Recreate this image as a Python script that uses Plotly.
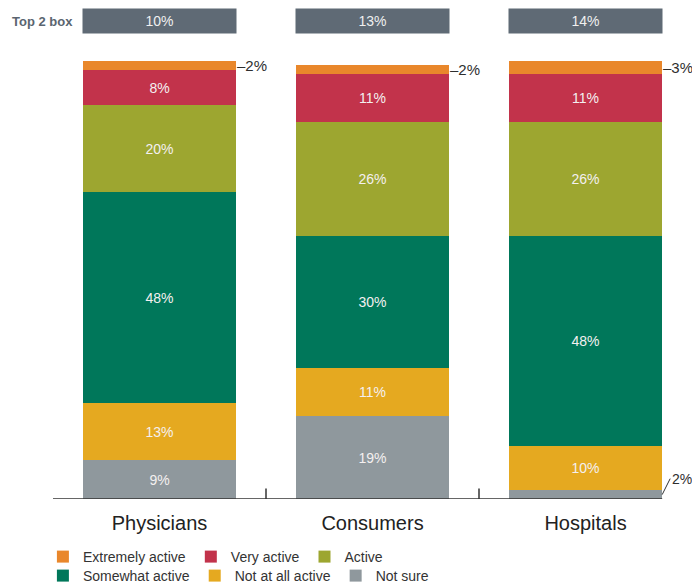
import plotly.graph_objects as go

# Survey results: how active each group is, stacked from the bottom up
groups = ["Physicians", "Consumers", "Hospitals"]
levels = ["Not sure", "Not at all active", "Somewhat active",
          "Active", "Very active", "Extremely active"]
not_sure = [9, 19, 2]
not_at_all = [13, 11, 10]
somewhat = [48, 30, 48]
active = [20, 26, 26]
very = [8, 11, 11]
extremely = [2, 2, 3]
top2_box = [10, 13, 14]

series = [not_sure, not_at_all, somewhat, active, very, extremely]
colors = ["#8F989D", "#E5A920", "#00775A", "#9DA630", "#C2334B", "#E9872B"]
legend_row = ["legend2", "legend2", "legend2", "legend", "legend", "legend"]

FONT = "Liberation Sans, Arial, sans-serif"
BAR_W = 0.72
x = list(range(len(groups)))

fig = go.Figure()
for name, vals, col, lg in zip(levels, series, colors, legend_row):
    fig.add_trace(go.Bar(
        x=x, y=vals, name=name, width=BAR_W,
        marker=dict(color=col, line=dict(width=0)),
        text=[f"{v}%" if v >= 5 else "" for v in vals],
        textposition="inside", insidetextanchor="middle",
        textfont=dict(color="#F4F0F0", size=14, family=FONT),
        legend=lg, hoverinfo="skip",
    ))

annotations = []
# "Top 2 box" header boxes
annotations.append(dict(
    x=-0.068, y=1.0913, xref="paper", yref="paper", xanchor="left", yanchor="middle",
    text="<b>Top 2 box</b>", showarrow=False,
    font=dict(size=13, color="#5A6570", family=FONT)))
for i, v in enumerate(top2_box):
    annotations.append(dict(
        x=i, y=1.0913, xref="x", yref="paper", yanchor="middle",
        text=f"{v}%", showarrow=False, width=151, height=22,
        bgcolor="#5F6A75", font=dict(size=14, color="#F0F0F0", family=FONT)))

# small outside labels for the thin segments
for i, g in enumerate(groups):
    top = sum(s[i] for s in series)
    e = extremely[i]
    annotations.append(dict(
        x=i + BAR_W / 2, y=top - e / 2, xref="x", yref="y",
        xanchor="left", yanchor="middle", text=f"–{e}%", showarrow=False,
        xshift=-1, font=dict(size=15, color="#2E2E2E", family=FONT)))
    if not_sure[i] < 5:
        annotations.append(dict(
            x=i + BAR_W / 2, y=not_sure[i] / 2, xref="x", yref="y",
            ax=8, ay=-16, showarrow=True, arrowhead=0, arrowwidth=1,
            arrowcolor="#333333", xanchor="left", yanchor="middle",
            text=f"{not_sure[i]}%",
            font=dict(size=14, color="#2E2E2E", family=FONT)))

shapes = [dict(type="line", xref="x", yref="y", x0=-0.5, x1=2 + BAR_W / 2,
               y0=0, y1=0, line=dict(color="#333333", width=1.5), layer="above")]
for t in (0.5, 1.5):
    shapes.append(dict(type="line", xref="x", yref="y", x0=t, x1=t,
                       y0=0, y1=2.4, line=dict(color="#333333", width=1.5)))

legend_style = dict(orientation="h", xref="container", yref="container",
                    xanchor="left", yanchor="middle", traceorder="reversed",
                    font=dict(size=14, color="#333333", family=FONT),
                    itemwidth=30, bgcolor="rgba(0,0,0,0)")

fig.update_layout(
    width=692, height=587,
    margin=dict(l=53, r=0, t=61, b=88, autoexpand=False),
    paper_bgcolor="white", plot_bgcolor="white",
    barmode="stack", bargap=0,
    font=dict(family=FONT, color="#333333"),
    xaxis=dict(range=[-0.5, 2.5], tickvals=x, ticktext=groups, showgrid=False,
               zeroline=False, showline=False, ticks="", fixedrange=True,
               tickfont=dict(size=20, color="#222222", family=FONT),
               ticklabelstandoff=10),
    yaxis=dict(range=[0, 100], visible=False, fixedrange=True),
    legend=dict(legend_style, x=0.062, y=1 - 557 / 587),
    legend2=dict(legend_style, x=0.062, y=1 - 576 / 587),
    annotations=annotations, shapes=shapes,
    showlegend=True,
)

fig.write_html("out.html")
